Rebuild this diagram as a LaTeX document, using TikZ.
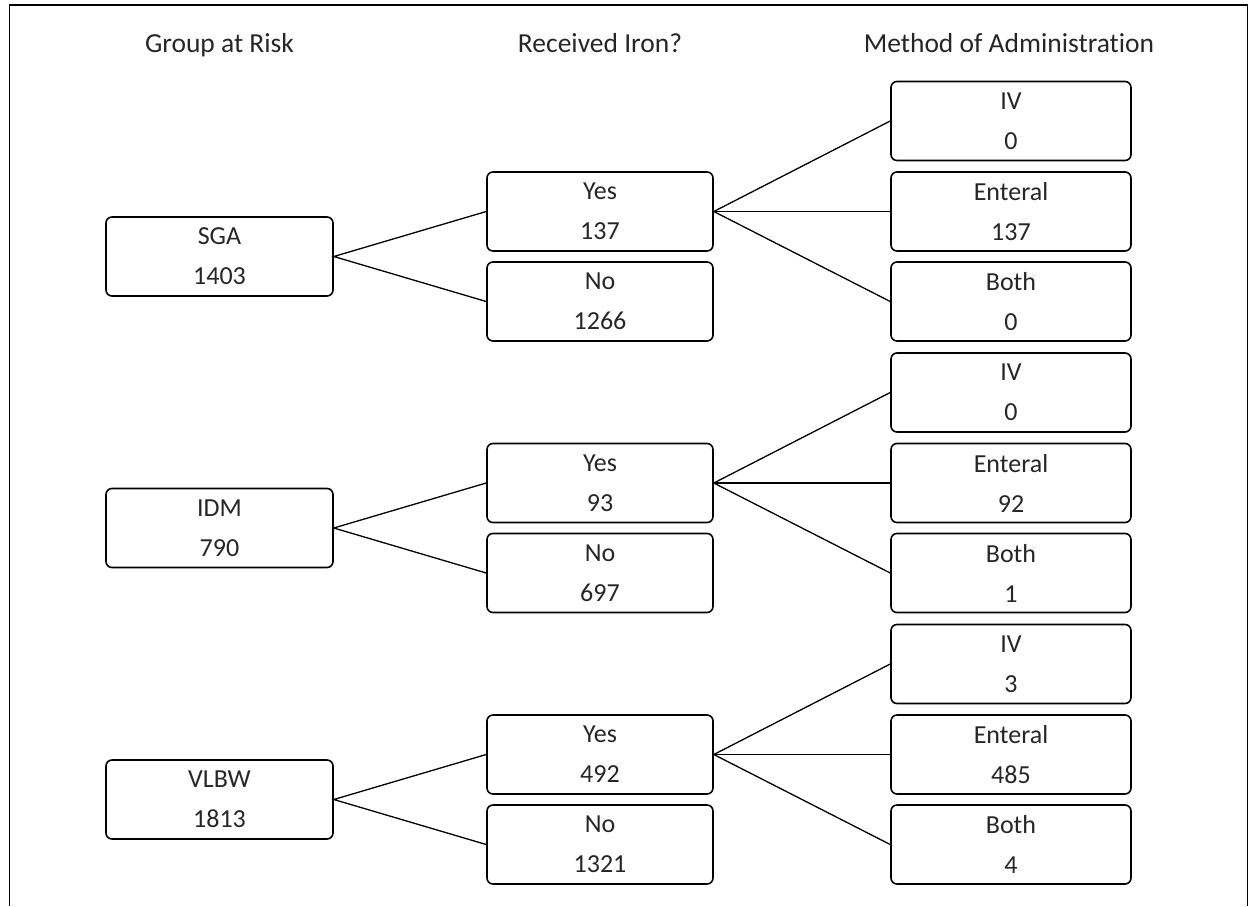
\documentclass[tikz,border=0pt]{standalone}
\usepackage{fontspec}
\setmainfont{Carlito}[Ligatures={NoCommon}]
\begin{document}
\begin{tikzpicture}[x=1pt,y=-1pt,
  box/.style={draw, rounded corners=6pt, line width=1.6pt, minimum height=79pt,
    align=center, inner sep=0pt, font=\fontsize{26}{40}\selectfont, text=black!85},
  gbox/.style={box, minimum width=227pt},
  ybox/.style={box, minimum width=226pt},
  mbox/.style={box, minimum width=240pt},
  head/.style={anchor=base, font=\fontsize{27.5}{32}\selectfont, text=black!85},
  link/.style={line width=1.3pt}]
\useasboundingbox (0,0) rectangle (1250,906);
\draw[line width=1.2pt] (9.5,906) -- (9.5,5) -- (1247.5,5) -- (1247.5,906);

\node[head] (h1) at (219.5,52) {Group at Risk};
\node[head] (h2) at (600,52) {Received Iron?};
\node[head] (h3) at (1009,52) {Method of Administration};

\foreach \i/\g/\gn/\yn/\nn/\iv/\en/\bo in {0/SGA/1403/137/1266/0/137/0, 1/IDM/790/93/697/0/92/1, 2/VLBW/1813/492/1321/3/485/4}{
  \pgfmathsetmacro{\dy}{271.5*\i}
  \node[gbox] (g\i) at (219.5,256.5+\dy) {\g\\\gn};
  \node[ybox] (y\i) at (600,211.5+\dy) {Yes\\\yn};
  \node[ybox] (n\i) at (600,301.5+\dy) {No\\\nn};
  \node[mbox] (iv\i) at (1011,121+\dy) {IV\\\iv};
  \node[mbox] (en\i) at (1011,211.5+\dy) {Enteral\\\en};
  \node[mbox] (bo\i) at (1011,301.5+\dy) {Both\\\bo};
  \draw[link] (y\i.west) -- (g\i.east) -- (n\i.west);
  \draw[link] (y\i.east) -- (iv\i.west);
  \draw[link] (y\i.east) -- (en\i.west);
  \draw[link] (y\i.east) -- (bo\i.west);
}
\end{tikzpicture}
\end{document}
